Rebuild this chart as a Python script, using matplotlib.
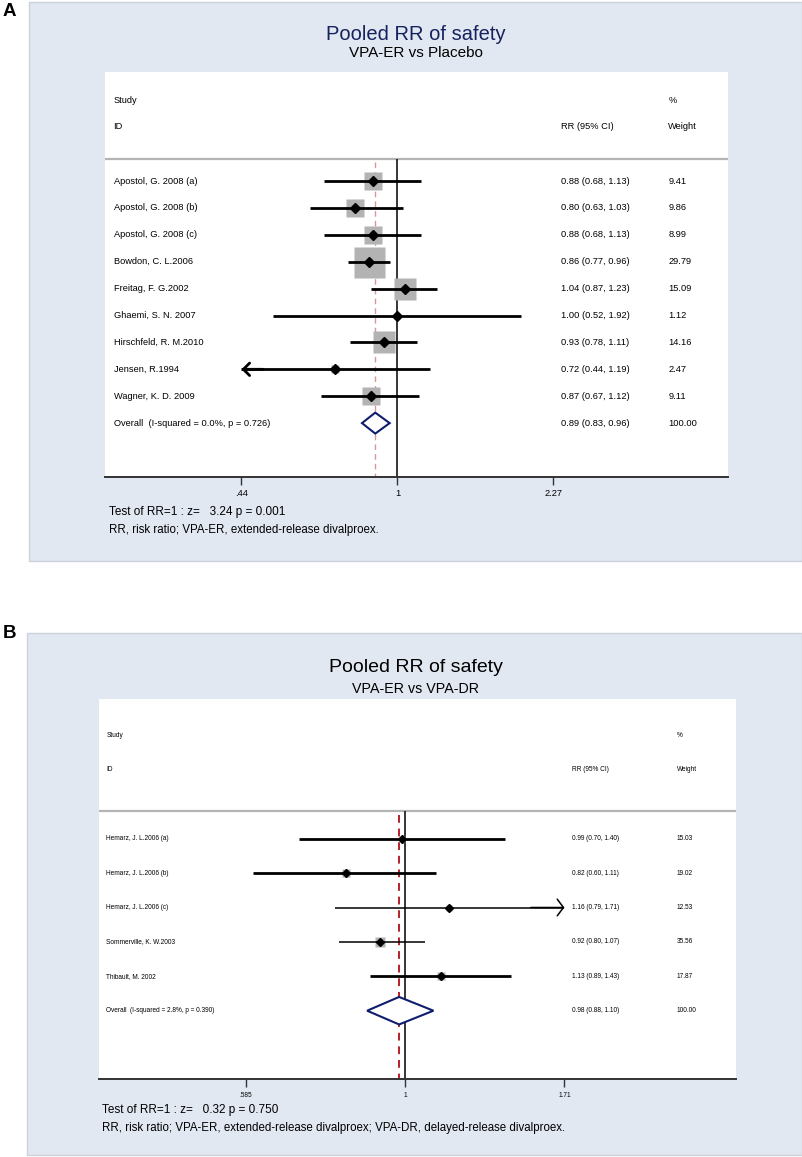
import numpy as np
import matplotlib
matplotlib.use('Agg')
import matplotlib.pyplot as plt
from matplotlib.patches import Rectangle, Polygon

plt.rcParams['font.family'] = ['Liberation Sans', 'DejaVu Sans']

W, H = 803, 1157

# panel A: VPA-ER vs Placebo
studies_a = ["Apostol, G. 2008 (a)", "Apostol, G. 2008 (b)", "Apostol, G. 2008 (c)",
             "Bowdon, C. L.2006", "Freitag, F. G.2002", "Ghaemi, S. N. 2007",
             "Hirschfeld, R. M.2010", "Jensen, R.1994", "Wagner, K. D. 2009"]
est_a = [0.88, 0.80, 0.88, 0.86, 1.04, 1.00, 0.93, 0.72, 0.87]
lo_a = [0.68, 0.63, 0.68, 0.77, 0.87, 0.52, 0.78, 0.44, 0.67]
hi_a = [1.13, 1.03, 1.13, 0.96, 1.23, 1.92, 1.11, 1.19, 1.12]
weight_a = [9.41, 9.86, 8.99, 29.79, 15.09, 1.12, 14.16, 2.47, 9.11]
overall_a = [0.89, 0.83, 0.96]
overall_label_a = "Overall  (I-squared = 0.0%, p = 0.726)"
ticks_a = [0.44, 1, 2.27]
ticklabels_a = [".44", "1", "2.27"]
test_a = "Test of RR=1 : z=   3.24 p = 0.001"
note_a = "RR, risk ratio; VPA-ER, extended-release divalproex."

# panel B: VPA-ER vs VPA-DR
studies_b = ["Hemarz, J. L.2006 (a)", "Hemarz, J. L.2006 (b)", "Hemarz, J. L.2006 (c)",
             "Sommerville, K. W.2003", "Thibault, M. 2002"]
est_b = [0.99, 0.82, 1.16, 0.92, 1.13]
lo_b = [0.70, 0.60, 0.79, 0.80, 0.89]
hi_b = [1.40, 1.11, 1.71, 1.07, 1.43]
weight_b = [15.03, 19.02, 12.53, 35.56, 17.87]
overall_b = [0.98, 0.88, 1.10]
overall_label_b = "Overall  (I-squared = 2.8%, p = 0.390)"
ticks_b = [0.585, 1, 1.71]
ticklabels_b = [".585", "1", "1.71"]
test_b = "Test of RR=1 : z=   0.32 p = 0.750"
note_b = "RR, risk ratio; VPA-ER, extended-release divalproex; VPA-DR, delayed-release divalproex."


def fx(x):
    return x / W


def fy(y):
    return 1 - y / H


def draw_panel(fig, letter, letter_y, bg, plot_box, xlim, ylim, title_y, title_color,
               sub_y, subtitle, studies, est, lo, hi, weight, overall, overall_label,
               ticks, ticklabels, test, note, foot_y, s):
    x0, y0, x1, y1 = bg
    fig.patches.append(Rectangle((fx(x0), fy(y1)), fx(x1 - x0), (y1 - y0) / H,
                                 transform=fig.transFigure, facecolor='#e2e8f2',
                                 edgecolor='#cdd2da', lw=1.0, zorder=-5))
    fig.text(fx(9.5), fy(letter_y), letter, fontsize=13.5, fontweight='bold', ha='center', va='center')

    px0, py0, px1, py1 = plot_box
    fig.text(fx(416), fy(title_y), "Pooled RR of safety", fontsize=s['title'],
             color=title_color, ha='center', va='baseline')
    fig.text(fx(416), fy(sub_y), subtitle, fontsize=s['sub'], ha='center', va='baseline')

    ax = fig.add_axes([fx(px0), fy(py1), (px1 - px0) / W, (py1 - py0) / H])
    ax.set_zorder(2)
    ax.set_facecolor('white')
    ax.set_xscale('log')
    ax.set_xlim(xlim)
    ax.set_ylim(ylim)
    for sp in ['top', 'left', 'right']:
        ax.spines[sp].set_visible(False)
    ax.spines['bottom'].set_linewidth(1.4)
    ax.spines['bottom'].set_color('#333333')
    ax.set_yticks([])
    ax.set_xticks(ticks)
    ax.set_xticklabels(ticklabels)
    ax.minorticks_off()
    ax.tick_params(axis='x', length=6, width=1.0, color='#333333',
                   labelsize=s['body'], pad=3)

    tr = ax.get_yaxis_transform()
    fs = s['body']
    # header
    ax.text(s['cols'][0], -3.01, "Study", transform=tr, fontsize=fs, va='center')
    ax.text(s['cols'][0], -2.02, "ID", transform=tr, fontsize=fs, va='center')
    ax.text(s['cols'][1], -2.02, "RR (95% CI)", transform=tr, fontsize=fs, va='center')
    ax.text(s['cols'][2], -3.01, "%", transform=tr, fontsize=fs, va='center')
    ax.text(s['cols'][2], -2.02, "Weight", transform=tr, fontsize=fs, va='center')
    ax.axhline(-0.807, color='#b4b4b4', lw=1.6)

    n = len(studies)
    rows = np.arange(n)
    ax.vlines(1, -0.807, ylim[0], color='black', lw=1.1, zorder=2)
    ax.vlines(overall[0], -0.7, ylim[0], color=s['ref_color'], lw=s['ref_lw'],
              linestyles=(0, (4, 3)), zorder=2)

    for i in rows:
        a, b = lo[i], hi[i]
        left_arrow = a <= ticks[0]
        right_arrow = b >= ticks[-1]
        a = max(a, ticks[0])
        b = min(b, ticks[-1])
        side = s['box'] * np.sqrt(weight[i] / max(weight)) * 0.72
        ax.plot(est[i], i, marker='s', ms=side, color='#b3b3b3', mec='none', zorder=3)
        ax.plot([a, b], [i, i], color='black', lw=s['ci_lw'][i], zorder=4,
                solid_capstyle='butt')
        if left_arrow:
            ax.annotate('', xy=(a, i), xytext=(a * 1.12, i),
                        arrowprops=dict(arrowstyle='->,head_length=0.45,head_width=%s' % s['head'],
                                        lw=s['ci_lw'][i], color='black', mutation_scale=10,
                                        shrinkA=0, shrinkB=0), zorder=4)
        if right_arrow:
            ax.annotate('', xy=(b, i), xytext=(b / 1.12, i),
                        arrowprops=dict(arrowstyle='->,head_length=0.45,head_width=%s' % s['head'],
                                        lw=s['ci_lw'][i], color='black', mutation_scale=10,
                                        shrinkA=0, shrinkB=0), zorder=4)
        ax.plot(est[i], i, marker='D', ms=s['dot'], color='black', zorder=5)
        ax.text(s['cols'][0], i, studies[i], transform=tr, fontsize=fs, va='center')
        ax.text(s['cols'][1], i, "%.2f (%.2f, %.2f)" % (est[i], lo[i], hi[i]),
                transform=tr, fontsize=fs, va='center')
        ax.text(s['cols'][2], i, "%.2f" % weight[i], transform=tr, fontsize=fs, va='center')

    m, l, h = overall
    dh = s['dh']
    ax.add_patch(Polygon([(l, n), (m, n - dh), (h, n), (m, n + dh)], closed=True,
                         facecolor='white', edgecolor='#0f1d6e', lw=1.5, zorder=5))
    ax.text(s['cols'][0], n, overall_label, transform=tr, fontsize=fs, va='center')
    ax.text(s['cols'][1], n, "%.2f (%.2f, %.2f)" % (m, l, h), transform=tr, fontsize=fs, va='center')
    ax.text(s['cols'][2], n, "%.2f" % 100, transform=tr, fontsize=fs, va='center')

    fig.text(fx(s['foot_x']), fy(foot_y[0]), test, fontsize=8.5, va='center')
    fig.text(fx(s['foot_x']), fy(foot_y[1]), note, fontsize=8.3, va='center')
    return ax


fig = plt.figure(figsize=(W / 100, H / 100), dpi=100)

# pixel -> data mapping for each panel
# A: x = 397.4 + 190*ln(v), rows y = 181 + 26.9*i
xlim_a = (np.exp((105 - 397.4) / 190), np.exp((728.5 - 397.4) / 190))
ylim_a = ((477 - 181) / 26.9, (72 - 181) / 26.9)
style_a = dict(title=14.5, sub=11, body=6.7, cols=[0.0138, 0.732, 0.9036],
               ref_color='#d9959a', ref_lw=1.0, box=31, dot=5, dh=0.39,
               ci_lw=[2.0] * 9, head=0.45, foot_x=109)
draw_panel(fig, 'A', 12, (29, 2, 802, 561), (105, 72, 728.5, 477), xlim_a, ylim_a,
           40.5, '#16225e', 57.3, "VPA-ER vs Placebo",
           studies_a, est_a, lo_a, hi_a, weight_a, overall_a, overall_label_a,
           ticks_a, ticklabels_a, test_a, note_a, (512, 530), style_a)

# B: x = 405.1 + 297*ln(v), rows y = 838.7 + 34.4*i
xlim_b = (np.exp((98.7 - 405.1) / 297), np.exp((736 - 405.1) / 297))
ylim_b = ((1079.3 - 838.7) / 34.4, (699 - 838.7) / 34.4)
style_b = dict(title=14, sub=10.3, body=4.7, cols=[0.0121, 0.742, 0.9068],
               ref_color='#b51f2a', ref_lw=1.4, box=10.5, dot=4, dh=0.40,
               ci_lw=[2.0, 2.0, 1.1, 1.1, 2.0], head=0.6, foot_x=102)
draw_panel(fig, 'B', 633, (27, 633, 802, 1155), (98.7, 699, 736, 1079.3), xlim_b, ylim_b,
           671.7, 'black', 693.3, "VPA-ER vs VPA-DR",
           studies_b, est_b, lo_b, hi_b, weight_b, overall_b, overall_label_b,
           ticks_b, ticklabels_b, test_b, note_b, (1110, 1128), style_b)

fig.savefig('out.png', dpi=100)
